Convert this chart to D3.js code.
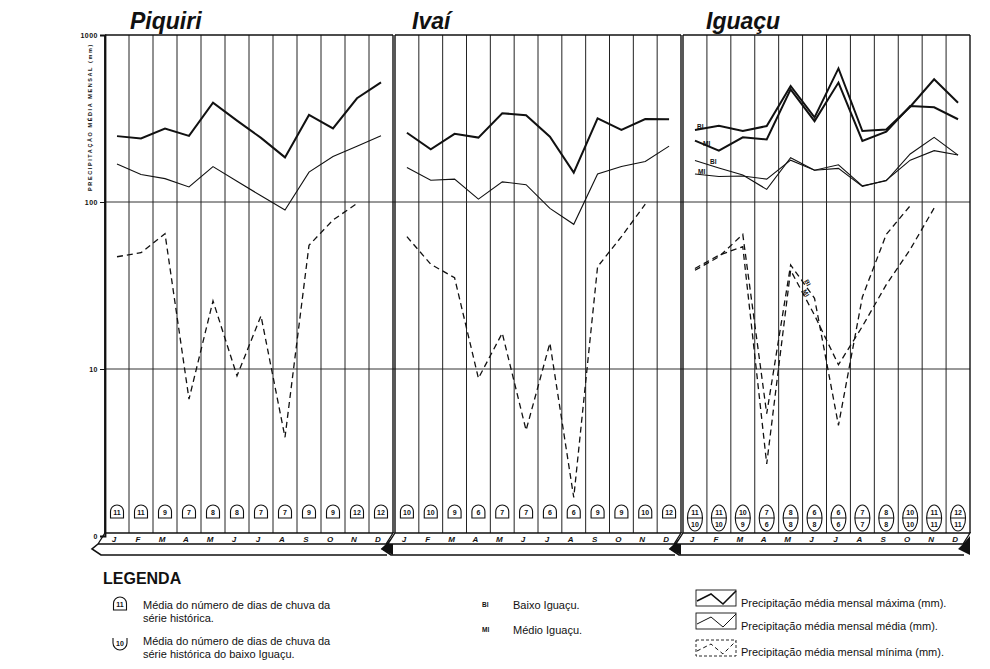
<!DOCTYPE html>
<html><head><meta charset="utf-8">
<script src="https://cdn.jsdelivr.net/npm/d3@7"></script>
<style>
body{margin:0;background:#fff;}
svg{display:block;}
text{font-family:"Liberation Sans",Arial,sans-serif;fill:#111;}
</style></head>
<body><svg id="c" width="990" height="669"></svg>
<script>
const months = ["J","F","M","A","M","J","J","A","S","O","N","D"];
const panels = ["Piquiri","Ivaí","Iguaçu"];
const yTickValues = [1,10,100,1000];
const yTickLabels = ["0","10","100","1000"];

// Piquiri
const piquiriMax  = [248,240,275,249,393,307,242,185,332,276,418,520];
const piquiriMean = [169,146,138,123,163,133,109,89.6,151,187,216,249];
const piquiriMin  = [47,49.7,64.6,6.6,25.6,9.1,20.8,3.9,55,78,98,null];
const piquiriDays = [11,11,9,7,8,8,7,7,9,9,12,12];
// Ivaí
const ivaiMax  = [260,207,256,243,340,331,246,150,317,270,314,313];
const ivaiMean = [161,135,137,104,132,127,91.6,73.5,147,163,175,216];
const ivaiMin  = [62,42.4,35.2,8.8,16.4,4.3,14.3,1.7,41,62,97,null];
const ivaiDays = [10,10,9,6,7,7,6,6,9,9,10,12];
// Iguaçu — BI (Baixo Iguaçu), MI (Médio Iguaçu)
const iguacuMaxBI  = [270,286,266,285,495,321,631,266,272,372,543,393];
const iguacuMaxMI  = [233,203,244,237,473,305,519,232,264,376,369,313];
const iguacuMeanBI = [177,160,145,119,184,155,167,125,134,194,244,191];
const iguacuMeanMI = [147,142,143,137,178,155,159,124,135,178,203,191];
const iguacuMinBI  = [39,47,64,5.4,42,26.5,4.6,27,64,95,null,null];
const iguacuMinMI  = [40,48,54,2.7,39,21,10.6,18,32,52,92,null];
const iguacuDays   = [11,11,10,7,8,6,6,7,8,10,11,12];
const iguacuDaysBI = [10,10,9,6,8,8,6,7,8,10,11,11];

const svg = d3.select("#c");
const yTop = 35, yBottom = 536;
const y = d3.scaleLog().domain([1,1000]).range([yBottom, yTop]);
const panelX = [[105,393],[395,681],[683,970]];
const xs = panelX.map(([a,b]) => d3.scaleBand().domain(d3.range(12)).range([a,b]));

// horizontal grid at 10 and 100
[10,100].forEach(v=>{
  svg.append("line").attr("x1",105).attr("x2",970).attr("y1",y(v)).attr("y2",y(v))
    .attr("stroke","#333").attr("stroke-width",1);
});

// panels: vertical grid, borders
panelX.forEach(([a,b],pi)=>{
  const x = xs[pi];
  d3.range(1,12).forEach(i=>{
    svg.append("line").attr("x1",x(i)).attr("x2",x(i)).attr("y1",yTop).attr("y2",533)
      .attr("stroke","#222").attr("stroke-width",1);
  });
  svg.append("line").attr("x1",a).attr("x2",a).attr("y1",yTop).attr("y2",533).attr("stroke","#111").attr("stroke-width",pi==0?1.8:1.4);
  svg.append("line").attr("x1",b).attr("x2",b).attr("y1",yTop).attr("y2",533).attr("stroke","#111").attr("stroke-width",1.4);
  svg.append("line").attr("x1",a).attr("x2",b).attr("y1",yTop).attr("y2",yTop).attr("stroke","#111").attr("stroke-width",1.3);
  // title
  svg.append("text").attr("x",[130,412,706][pi]).attr("y",29).text(panels[pi])
    .attr("font-size",23).attr("font-weight","bold").attr("font-style","italic");
  // bottom band
  svg.append("path").attr("d",`M${a},533 L${b},533 L${b-7},544 L${a-7},544 Z`)
    .attr("fill","#fff").attr("stroke","#111").attr("stroke-width",1.3);
  svg.append("path").attr("d",`M${a-7},544 L${a-13},549 L${a-4},555 L${b-6},555`)
    .attr("fill","none").attr("stroke","#111").attr("stroke-width",1.6);
  svg.append("path").attr("d",`M${b-7},544 L${b},536 L${b},555 L${b-12},549 Z`)
    .attr("fill","#111").attr("stroke","none");
  months.forEach((m,i)=>{
    svg.append("text").attr("x",x(i)+x.bandwidth()/2-3).attr("y",542).text(m)
      .attr("font-size",8).attr("font-weight","bold").attr("font-style","italic").attr("text-anchor","middle");
  });
});

// y axis
const axis = d3.axisLeft(y).tickValues(yTickValues).tickFormat((d,i)=>yTickLabels[i]).tickSize(5).tickPadding(2);
const ga = svg.append("g").attr("transform","translate(105,0)").call(axis);
ga.select(".domain").attr("stroke","#111").attr("stroke-width",1.8);
ga.selectAll("text").attr("font-size",7).attr("font-weight","bold").attr("letter-spacing",0.5);
ga.selectAll(".tick line").attr("stroke","#111");
svg.append("text").attr("transform","translate(92,117) rotate(-90)").attr("text-anchor","middle")
  .attr("font-size",5.5).attr("font-weight","bold").attr("letter-spacing",1.6).text("PRECIPITAÇÃO MÉDIA MENSAL (mm)");

// lines
function drawLine(pi, data, kind){
  const x = xs[pi];
  const line = d3.line().defined(d=>d!=null).x((d,i)=>x(i)+x.bandwidth()/2).y(d=>y(d));
  const p = svg.append("path").datum(data).attr("d",line).attr("fill","none").attr("stroke","#111").attr("stroke-linejoin","miter");
  if(kind==="max") p.attr("stroke-width",2);
  if(kind==="mean") p.attr("stroke-width",1.1);
  if(kind==="min") p.attr("stroke-width",1.3).attr("stroke-dasharray","6,4");
}
drawLine(0,piquiriMax,"max"); drawLine(0,piquiriMean,"mean"); drawLine(0,piquiriMin,"min");
drawLine(1,ivaiMax,"max"); drawLine(1,ivaiMean,"mean"); drawLine(1,ivaiMin,"min");
drawLine(2,iguacuMaxBI,"max"); drawLine(2,iguacuMaxMI,"max");
drawLine(2,iguacuMeanBI,"mean"); drawLine(2,iguacuMeanMI,"mean");
drawLine(2,iguacuMinBI,"min"); drawLine(2,iguacuMinMI,"min");

// BI / MI labels in Iguaçu
const small = (x0,y0,t,rot)=>svg.append("text").attr("x",x0).attr("y",y0).text(t)
   .attr("font-size",6.5).attr("font-weight","bold").attr("transform",rot?`rotate(${rot},${x0},${y0})`:null);
small(697,129,"BI"); small(703,146,"MI"); small(710,164,"BI"); small(698,174,"MI");
small(804,281,"BI",60); small(802,291,"MI",60);

// day symbols
function dome(cx, by, n){
  const r=6.5;
  svg.append("path").attr("d",`M${cx-r},${by} L${cx-r},${by-r} A${r},${r} 0 0 1 ${cx+r},${by-r} L${cx+r},${by} Z`)
    .attr("fill","#fff").attr("stroke","#111").attr("stroke-width",1.1);
  svg.append("text").attr("x",cx).attr("y",by-3).attr("text-anchor","middle").attr("font-size",7).attr("font-weight","bold").text(n);
}
[piquiriDays, ivaiDays].forEach((arr,pi)=>{
  const x=xs[pi];
  arr.forEach((n,i)=>dome(x(i)+x.bandwidth()/2,518,n));
});
{
  const x=xs[2];
  iguacuDays.forEach((n,i)=>{
    const cx=x(i)+x.bandwidth()/2;
    svg.append("ellipse").attr("cx",cx).attr("cy",518).attr("rx",7.5).attr("ry",13).attr("fill","#fff").attr("stroke","#111").attr("stroke-width",1.1);
    svg.append("line").attr("x1",cx-7.5).attr("x2",cx+7.5).attr("y1",518).attr("y2",518).attr("stroke","#111");
    svg.append("text").attr("x",cx).attr("y",515).attr("text-anchor","middle").attr("font-size",7).attr("font-weight","bold").text(n);
    svg.append("text").attr("x",cx).attr("y",527).attr("text-anchor","middle").attr("font-size",7).attr("font-weight","bold").text(iguacuDaysBI[i]);
  });
}

// legend
svg.append("text").attr("x",103).attr("y",584).text("LEGENDA").attr("font-size",16).attr("font-weight","bold");
dome(120,610,"11");
svg.append("text").attr("x",143).attr("y",609).attr("font-size",11).text("Média do número de dias de chuva da");
svg.append("text").attr("x",143).attr("y",622).attr("font-size",11).text("série histórica.");
svg.append("path").attr("d","M113,638 L113,643 A7,7 0 0 0 127,643 L127,638").attr("fill","none").attr("stroke","#111").attr("stroke-width",1.1);
svg.append("text").attr("x",120).attr("y",646).attr("text-anchor","middle").attr("font-size",7).attr("font-weight","bold").text("10");
svg.append("text").attr("x",143).attr("y",645).attr("font-size",11).text("Média do número de dias de chuva da");
svg.append("text").attr("x",143).attr("y",658).attr("font-size",11).text("série histórica do baixo Iguaçu.");
svg.append("text").attr("x",482).attr("y",607).attr("font-size",6.5).attr("font-weight","bold").text("BI");
svg.append("text").attr("x",513).attr("y",609).attr("font-size",11).text("Baixo Iguaçu.");
svg.append("text").attr("x",482).attr("y",632).attr("font-size",6.5).attr("font-weight","bold").text("MI");
svg.append("text").attr("x",513).attr("y",634).attr("font-size",11).text("Médio Iguaçu.");
const legItems = [["Precipitação média mensal máxima (mm).","max",590,607],
                  ["Precipitação média mensal média (mm).","mean",613,630],
                  ["Precipitação média mensal mínima (mm).","min",640,656]];
legItems.forEach(([t,k,y0,ty])=>{
  svg.append("rect").attr("x",696).attr("y",y0).attr("width",40).attr("height",16).attr("fill","none")
    .attr("stroke","#111").attr("stroke-width",0.9).attr("stroke-dasharray",k==="min"?"3,2":null);
  const p = svg.append("path").attr("d",`M697,${y0+11} L711,${y0+4} L723,${y0+14} L736,${y0+1}`)
    .attr("fill","none").attr("stroke","#111");
  if(k==="max") p.attr("stroke-width",1.6);
  if(k==="mean") p.attr("stroke-width",1);
  if(k==="min") p.attr("stroke-width",1).attr("stroke-dasharray","4,3");
  svg.append("text").attr("x",741).attr("y",ty).attr("font-size",11).text(t);
});
</script></body></html>
